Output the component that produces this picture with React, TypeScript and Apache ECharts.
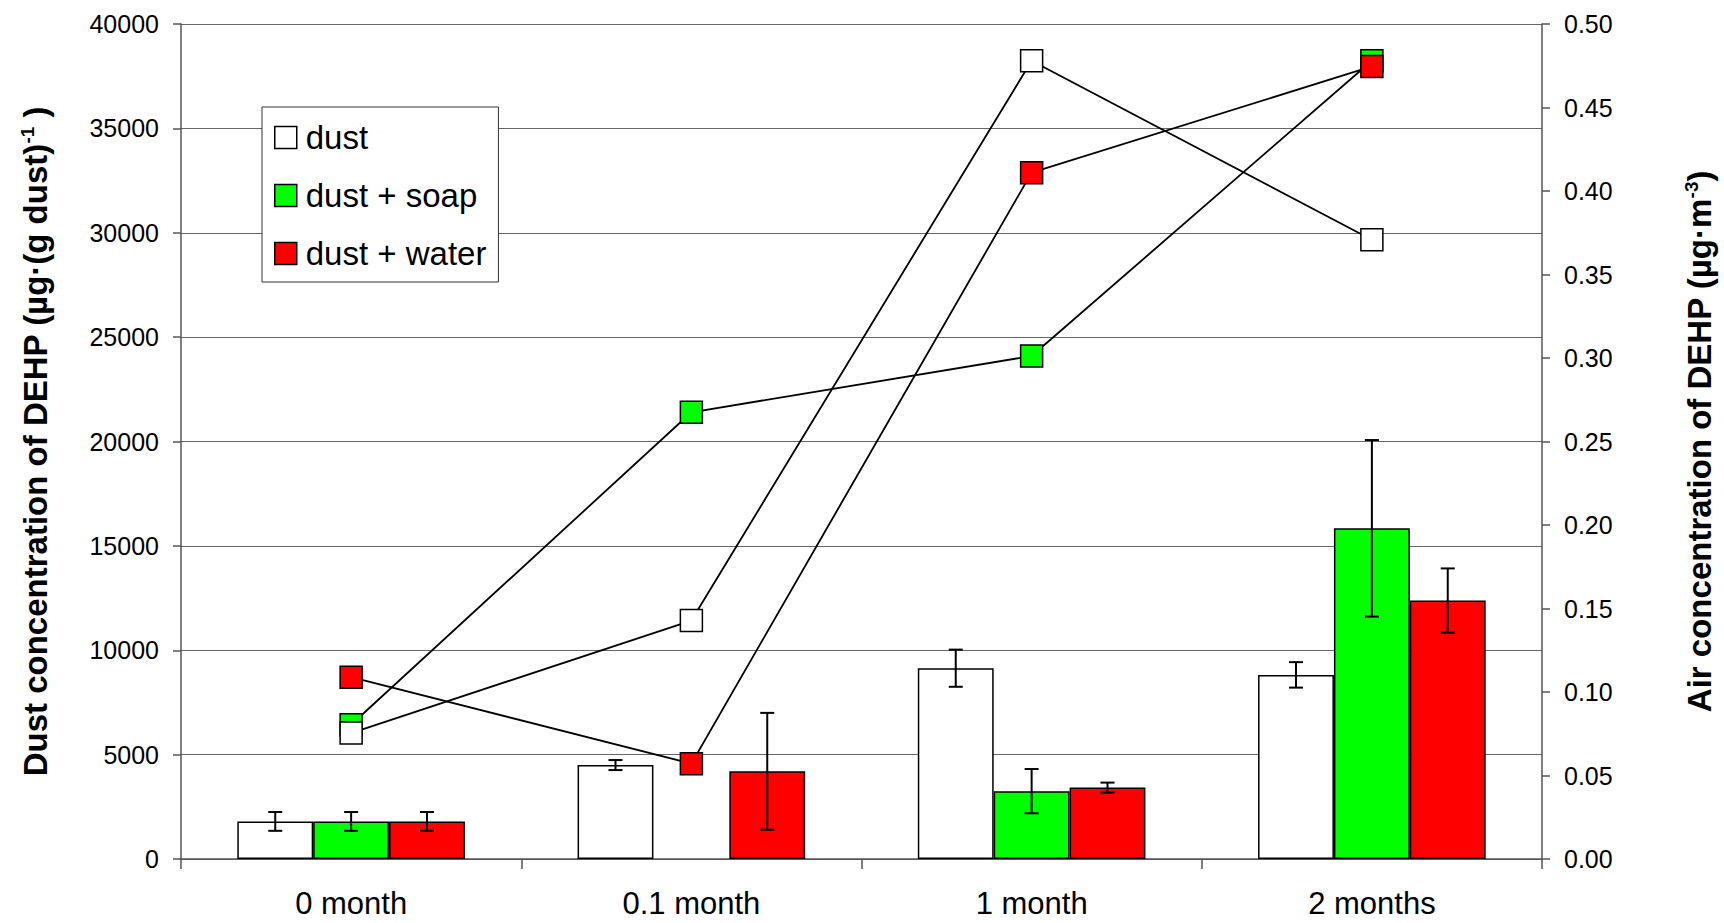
import React, { useEffect, useRef } from "react";
import * as echarts from "echarts";

// Sampling times
const categories = ["0 month", "0.1 month", "1 month", "2 months"];
const seriesNames = ["dust", "dust + soap", "dust + water"];

// Dust concentration of DEHP, µg/g dust (bars, left axis)
const dustBar = [1800, 4500, 9140, 8820];
const soapBar = [1800, null, 3250, 15840];
const waterBar = [1800, 4200, 3420, 12380];

// Standard deviations of the dust concentrations
const dustErr = [450, 240, 890, 610];
const soapErr = [450, null, 1060, 4230];
const waterErr = [450, 2800, 240, 1540];

// Air concentration of DEHP, µg/m³ (lines, right axis)
const dustAir = [0.0754, 0.1428, 0.478, 0.3708];
const soapAir = [0.0804, 0.2675, 0.3012, 0.478];
const waterAir = [0.1089, 0.0571, 0.411, 0.4746];

// Left and right axis ticks
const leftTicks = { min: 0, max: 40000, interval: 5000 };
const rightTicks = { min: 0, max: 0.5, interval: 0.05 };

const fills = ["#ffffff", "#00ff00", "#ff0000"];
const BAR_FRAC = 0.223;
const FONT = "'Liberation Sans', Arial, sans-serif";

export default function App() {
  const ref = useRef<HTMLDivElement>(null);

  useEffect(() => {
    if (!ref.current) return;
    const chart = echarts.init(ref.current, undefined, { renderer: "svg" });

    const barSets = [dustBar, soapBar, waterBar];
    const errSets = [dustErr, soapErr, waterErr];
    const airSets = [dustAir, soapAir, waterAir];

    const errData: number[][] = [];
    barSets.forEach((vals, slot) => {
      vals.forEach((v, i) => {
        const e = errSets[slot][i];
        if (v == null || e == null) return;
        errData.push([i, v - e, v + e, slot]);
      });
    });

    const barSeries = barSets.map((vals, k) => ({
      type: "bar",
      name: seriesNames[k],
      data: vals,
      yAxisIndex: 0,
      barWidth: BAR_FRAC * 100 + "%",
      barGap: "0%",
      itemStyle: { color: fills[k], borderColor: "#000", borderWidth: 1.5 },
      z: 2,
    }));

    // green line first so the other markers sit on top of it
    const lineOrder = [1, 0, 2];
    const lineSeries = lineOrder.map((k) => ({
      type: "line",
      name: seriesNames[k],
      data: airSets[k],
      yAxisIndex: 1,
      symbol: "rect",
      symbolSize: 22,
      lineStyle: { color: "#000", width: 1.8 },
      itemStyle: { color: fills[k], borderColor: "#000", borderWidth: 1.5 },
      z: 5,
    }));

    const errorSeries = {
      type: "custom",
      name: "sd",
      yAxisIndex: 0,
      data: errData,
      encode: { x: 0, y: [1, 2] },
      z: 3,
      renderItem: (params: any, api: any) => {
        const cat = api.value(0);
        const lo = api.coord([cat, api.value(1)]);
        const hi = api.coord([cat, api.value(2)]);
        const band = api.size([1, 0])[0];
        const x = lo[0] + (api.value(3) - 1) * band * BAR_FRAC;
        const half = 7;
        const style = { stroke: "#000", lineWidth: 2 };
        return {
          type: "group",
          children: [
            { type: "line", shape: { x1: x, y1: lo[1], x2: x, y2: hi[1] }, style },
            { type: "line", shape: { x1: x - half, y1: lo[1], x2: x + half, y2: lo[1] }, style },
            { type: "line", shape: { x1: x - half, y1: hi[1], x2: x + half, y2: hi[1] }, style },
          ],
        };
      },
    };

    const nameRich = {
      t: { fontFamily: FONT, fontSize: 33, fontWeight: "bold", color: "#000" },
      s: { fontFamily: FONT, fontSize: 19, fontWeight: "bold", color: "#000", padding: [0, 0, 16, 0] },
    };

    chart.setOption({
      animation: false,
      backgroundColor: "#fff",
      textStyle: { fontFamily: FONT },
      grid: { left: 181, right: 179, top: 24, bottom: 64 },
      legend: {
        data: seriesNames,
        orient: "vertical",
        left: 262,
        top: 107,
        icon: "rect",
        itemWidth: 22,
        itemHeight: 22,
        itemGap: 25,
        padding: [14, 12, 12, 12],
        backgroundColor: "#fff",
        borderColor: "#333",
        borderWidth: 1,
        itemStyle: { borderColor: "#000", borderWidth: 1.5 },
        textStyle: { fontFamily: FONT, fontSize: 33, color: "#000", padding: [0, 0, 0, 4] },
      },
      xAxis: {
        type: "category",
        data: categories,
        axisLine: { lineStyle: { color: "#555", width: 1.5 } },
        axisTick: { show: true, length: 10, lineStyle: { color: "#555", width: 1.5 } },
        axisLabel: {
          fontFamily: FONT,
          fontSize: 31,
          lineHeight: 24,
          color: "#000",
          margin: 32,
        },
      },
      yAxis: [
        {
          type: "value",
          position: "left",
          ...leftTicks,
          name: "{t|Dust concentration of DEHP (µg·(g dust)}{s|-1}{t| )}",
          nameLocation: "middle",
          nameRotate: 90,
          nameGap: 128,
          nameTextStyle: { rich: nameRich },
          axisLine: { show: true, lineStyle: { color: "#555", width: 1.5 } },
          axisTick: { show: true, length: 8, lineStyle: { color: "#555", width: 1.5 } },
          axisLabel: {
            fontFamily: FONT,
            fontSize: 25,
            color: "#000",
            margin: 22,
            formatter: (v: number) => String(v),
          },
          splitLine: { show: true, lineStyle: { color: "#666", width: 1 } },
        },
        {
          type: "value",
          position: "right",
          ...rightTicks,
          name: "{t|Air concentration of DEHP (µg·m}{s|-3}{t|)}",
          nameLocation: "middle",
          nameRotate: 90,
          nameGap: 140,
          nameTextStyle: { rich: nameRich },
          axisLine: { show: true, lineStyle: { color: "#555", width: 1.5 } },
          axisTick: { show: true, length: 8, lineStyle: { color: "#555", width: 1.5 } },
          axisLabel: {
            fontFamily: FONT,
            fontSize: 25,
            color: "#000",
            margin: 22,
            formatter: (v: number) => v.toFixed(2),
          },
          splitLine: { show: false },
        },
      ],
      series: [...barSeries, errorSeries, ...lineSeries],
    });

    return () => chart.dispose();
  }, []);

  return (
    <div
      ref={ref}
      style={{ position: "fixed", left: 0, top: 0, width: 1724, height: 923 }}
    />
  );
}
